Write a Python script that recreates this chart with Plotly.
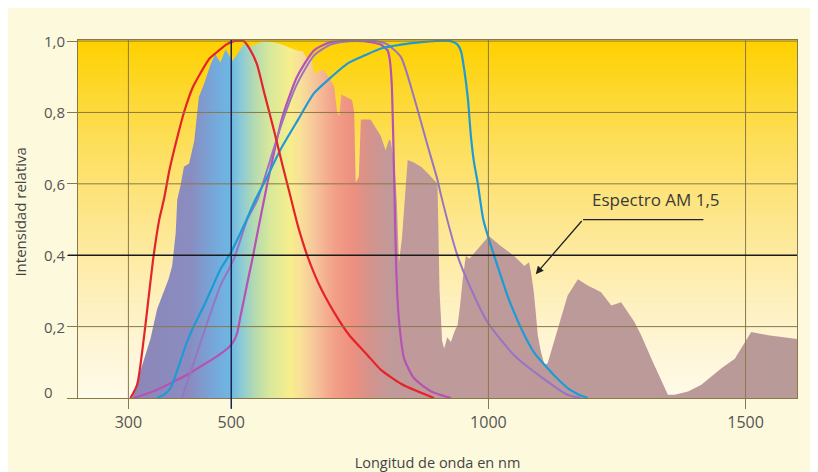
import plotly.graph_objects as go

# espectro AM 1,5 (intensidad relativa)
am15_nm = [307, 323, 343, 356, 366, 370, 378, 385, 388, 392, 395, 401, 408, 418, 428, 437, 447, 460, 469, 479,
           489, 502, 512, 524, 540, 563, 582, 600, 625, 640, 648, 655, 661, 680, 693, 700, 706, 710, 714, 735,
           739, 742, 748, 752, 771, 791, 800, 807, 810, 817, 822, 826, 832, 840, 843, 855, 869, 882, 895, 901,
           905, 910, 914, 920, 927, 935, 940, 945, 950, 956, 963, 980, 1001, 1024, 1050, 1070, 1079, 1083, 1088, 1092,
           1096, 1102, 1109, 1115, 1135, 1154, 1174, 1193, 1206, 1219, 1239, 1258, 1284, 1297, 1320, 1349, 1362, 1388, 1414, 1453,
           1479, 1511, 1544, 1600]
am15_val = [0, 0.074, 0.167, 0.25, 0.287, 0.306, 0.333, 0.37, 0.407, 0.463, 0.556, 0.593, 0.648, 0.657, 0.72, 0.843, 0.88, 0.935, 0.963, 0.94,
            0.977, 0.944, 0.963, 0.991, 0.985, 1.0, 0.997, 0.99, 0.975, 0.97, 0.946, 0.96, 0.909, 0.92, 0.89, 0.872, 0.80, 0.79, 0.85, 0.835,
            0.80, 0.604, 0.62, 0.78, 0.78, 0.733, 0.694, 0.724, 0.72, 0.66, 0.55, 0.38, 0.45, 0.62, 0.667, 0.66, 0.648, 0.63, 0.61, 0.60,
            0.30, 0.16, 0.139, 0.17, 0.157, 0.19, 0.204, 0.26, 0.333, 0.398, 0.39, 0.42, 0.454, 0.426, 0.398, 0.37, 0.38, 0.35, 0.30, 0.241,
            0.176, 0.13, 0.093, 0.097, 0.194, 0.287, 0.333, 0.315, 0.306, 0.296, 0.259, 0.268, 0.213, 0.176, 0.10, 0.009, 0.009, 0.018, 0.037, 0.083,
            0.11, 0.185, 0.176, 0.165]

# respuesta espectral de las celulas
red_nm = [304, 317, 330, 340, 349, 360, 369, 380, 395, 408, 425, 440, 457, 473, 490, 505, 524, 537, 550, 565,
          583, 600, 615, 630, 648, 670, 700, 730, 765, 791, 830, 860, 894]
red_val = [0, 0.037, 0.167, 0.29, 0.398, 0.50, 0.556, 0.64, 0.73, 0.80, 0.87, 0.91, 0.95, 0.97, 0.99, 1.0, 1.0, 0.975, 0.935, 0.85,
           0.75, 0.65, 0.565, 0.48, 0.398, 0.32, 0.24, 0.175, 0.12, 0.079, 0.04, 0.02, 0]

blue_nm = [356, 370, 382, 398, 414, 430, 447, 463, 479, 499, 524, 547, 570, 596, 630, 661, 695, 726, 760, 791,
           830, 870, 927, 940, 947, 953, 960, 966, 972, 979, 990, 1005, 1020, 1037, 1050, 1070, 1090, 1109, 1130, 1154,
           1175, 1193]
blue_val = [0, 0.01, 0.028, 0.09, 0.157, 0.21, 0.259, 0.31, 0.361, 0.407, 0.481, 0.556, 0.62, 0.697, 0.78, 0.854, 0.9, 0.937, 0.96, 0.979,
            0.99, 0.997, 1.0, 0.99, 0.97, 0.92, 0.84, 0.733, 0.66, 0.604, 0.5, 0.426, 0.36, 0.287, 0.24, 0.176, 0.125, 0.093, 0.06, 0.028,
            0.01, 0]

pink_nm = [310, 349, 380, 414, 440, 466, 485, 499, 507, 512, 518, 525, 533, 541, 551, 560, 570, 585, 600, 628,
           661, 693, 720, 757, 791, 804, 808, 812, 817, 821, 826, 836, 855, 888, 927]
pink_val = [0, 0.019, 0.04, 0.065, 0.088, 0.111, 0.13, 0.148, 0.165, 0.185, 0.23, 0.278, 0.335, 0.389, 0.463, 0.528, 0.6, 0.7, 0.79, 0.9,
            0.974, 0.997, 1.0, 1.0, 0.99, 0.974, 0.95, 0.88, 0.6, 0.35, 0.22, 0.111, 0.056, 0.019, 0]

violet_nm = [404, 425, 447, 465, 479, 505, 531, 551, 570, 596, 628, 661, 693, 730, 780, 804, 830, 855, 882, 901,
             908, 940, 966, 998, 1050, 1115, 1154, 1180]
violet_val = [0, 0.09, 0.185, 0.26, 0.315, 0.389, 0.5, 0.556, 0.64, 0.76, 0.88, 0.96, 0.99, 1.0, 1.0, 0.99, 0.955, 0.844, 0.706, 0.611,
              0.567, 0.398, 0.306, 0.213, 0.12, 0.046, 0.009, 0]

x_ticks = [300, 500, 1000, 1500]
x_labels = ["300", "500", "1000", "1500"]
y_ticks = [0, 0.2, 0.4, 0.6, 0.8, 1.0]
y_labels = ["0", "0,2", "0,4", "0,6", "0,8", "1,0"]

# colores del arco iris dentro del espectro
grad_nm = [300, 420, 470, 500, 520, 545, 575, 615, 635, 665, 700, 735, 770, 810, 1600]
grad_col = ["#8d86b6", "#8a8cc0", "#74a9dc", "#6db8e2", "#8ccad6", "#b4dab0", "#d8e89a", "#f7ee8c", "#f8e098",
            "#f6c29a", "#f2a088", "#ee9080", "#d4938c", "#c09a9a", "#b89a98"]

# fondo degradado del area del grafico
bg_pos = [0.0, 0.15, 0.3, 0.5, 0.7, 0.85, 1.0]
bg_col = ["#fffbea", "#fef5d4", "#feefb8", "#fde68c", "#fddf5e", "#fdd830", "#fed100"]


def hex2rgb(h):
    return tuple(int(h[i:i + 2], 16) for i in (1, 3, 5))


def interp_color(v, pos, cols):
    for i in range(len(pos) - 1):
        if pos[i] <= v <= pos[i + 1]:
            t = (v - pos[i]) / (pos[i + 1] - pos[i])
            a, b = hex2rgb(cols[i]), hex2rgb(cols[i + 1])
            return "rgb(%d,%d,%d)" % tuple(round(a[k] + (b[k] - a[k]) * t) for k in range(3))
    return cols[-1]


x_min, x_max = 202, 1600
grid_col = "#8a7848"

fig = go.Figure()

fig.add_trace(go.Scatter(
    x=am15_nm, y=am15_val, mode="lines", line=dict(width=0), fill="tozeroy",
    fillgradient=dict(type="horizontal", start=grad_nm[0], stop=grad_nm[-1],
                      colorscale=[[(w - grad_nm[0]) / (grad_nm[-1] - grad_nm[0]), c] for w, c in zip(grad_nm, grad_col)]),
    hoverinfo="skip", showlegend=False))

for xs, ys, col, w in [(pink_nm, pink_val, "#b553b4", 2.2),
                       (violet_nm, violet_val, "#9775c4", 2.0),
                       (blue_nm, blue_val, "#1d9bd7", 2.2),
                       (red_nm, red_val, "#e5232b", 2.2)]:
    fig.add_trace(go.Scatter(x=xs, y=ys, mode="lines", line=dict(color=col, width=w, shape="spline", smoothing=0.6),
                             showlegend=False))

shapes = []
n = 90
for k in range(n):
    shapes.append(dict(type="rect", xref="paper", yref="y", x0=0, x1=1, y0=k / n, y1=(k + 1) / n * 1.003 + 0.0005,
                       fillcolor=interp_color((k + 0.5) / n, bg_pos, bg_col), line=dict(width=0), layer="below"))

for v in y_ticks[1:]:
    if v == 0.4:
        continue
    shapes.append(dict(type="line", xref="paper", yref="y", x0=0, x1=1, y0=v, y1=v,
                       line=dict(color=grid_col, width=1), layer="above"))
for v in x_ticks:
    if v == 500:
        continue
    shapes.append(dict(type="line", xref="x", yref="paper", x0=v, x1=v, y0=0, y1=1,
                       line=dict(color=grid_col, width=1), layer="above"))
shapes.append(dict(type="line", xref="paper", yref="y", x0=-0.014, x1=1, y0=0.4, y1=0.4,
                   line=dict(color="#1a1a1a", width=1.4), layer="above"))
shapes.append(dict(type="line", xref="x", yref="paper", x0=500, x1=500, y0=-0.03, y1=1,
                   line=dict(color="#1c2550", width=1.5), layer="above"))
# linea de la etiqueta
shapes.append(dict(type="line", xref="x", yref="y", x0=1184, x1=1418, y0=0.5, y1=0.5,
                   line=dict(color="#222222", width=1.3), layer="above"))

annotations = []
for v, t in zip(y_ticks, y_labels):
    annotations.append(dict(xref="paper", yref="y", x=-0.05, y=v, text=t, showarrow=False, xanchor="left",
                            yanchor="middle", yshift=6 if v == 0 else 0,
                            font=dict(size=15, color="#555555")))
annotations.append(dict(xref="paper", yref="paper", x=-0.081, y=0.52, text="Intensidad relativa", textangle=-90,
                        xanchor="center", yanchor="middle",
                        showarrow=False, font=dict(size=15, color="#444444")))
annotations.append(dict(xref="x", yref="y", x=1326, y=0.556, text="Espectro AM 1,5", showarrow=False,
                        font=dict(size=17, color="#3a3a3a")))
annotations.append(dict(xref="x", yref="y", x=1092, y=0.347, ax=1184, ay=0.5, axref="x", ayref="y", text="",
                        showarrow=True, arrowhead=2, arrowsize=1.2, arrowwidth=1.3, arrowcolor="#222222"))

fig.update_layout(
    width=818, height=472,
    margin=dict(l=70, r=29, t=32, b=80),
    paper_bgcolor="#fdf9dc", plot_bgcolor="#fffbea",
    font=dict(family="Open Sans", color="#555555"),
    shapes=shapes, annotations=annotations,
    xaxis=dict(range=[x_min, x_max], tickvals=x_ticks, ticktext=x_labels, showgrid=False, zeroline=False,
               showline=True, linecolor=grid_col, linewidth=1, mirror=True,
               ticks="outside", ticklen=10, tickcolor=grid_col, tickfont=dict(size=16, color="#555555"),
               title=dict(text="Longitud de onda en nm", standoff=25, font=dict(size=14.5, color="#444444"))),
    yaxis=dict(range=[0, 1.003], tickvals=y_ticks, showticklabels=False, showgrid=False, zeroline=False,
               showline=True, linecolor=grid_col, linewidth=1, mirror=True,
               ticks="outside", ticklen=10, tickcolor=grid_col),
)

fig.write_html("out.html")
